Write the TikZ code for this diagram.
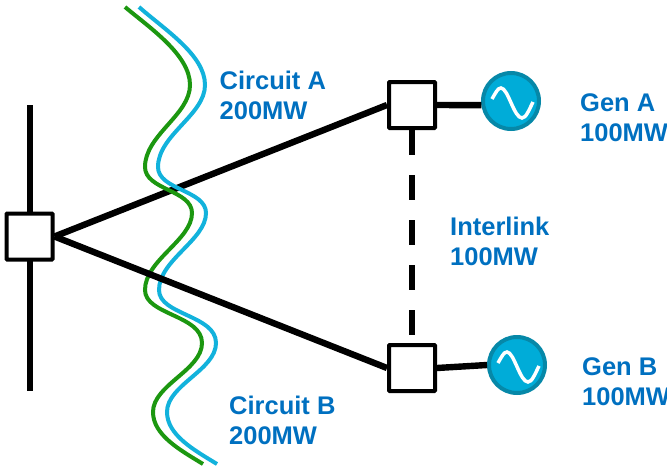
\documentclass[tikz,border=0pt]{standalone}
\usepackage{fontspec}
\setmainfont{Liberation Sans}
\definecolor{lab}{HTML}{0070C0}
\definecolor{cgreen}{HTML}{1C9710}
\definecolor{cblue}{HTML}{12B2DC}
\definecolor{genfill}{HTML}{00ACD8}
\definecolor{genline}{HTML}{0688A8}
\tikzset{
  busbox/.style={draw=black,fill=white,line width=4pt,minimum size=46pt,inner sep=0pt,rounded corners=0.8pt},
  gen/.style={circle,draw=genline,fill=genfill,line width=4pt,minimum size=56pt,inner sep=0pt},
  wire/.style={line width=6.4pt,black},
  circuit/.style={line width=4pt},
  lbl/.style={font=\fontsize{25.5}{30}\selectfont\bfseries,text=lab,align=left,anchor=west,inner sep=0pt},
  wave/.style={white,line width=3.5pt}
}
\begin{document}
\begin{tikzpicture}[x=1pt,y=-1pt]
\useasboundingbox (0,0) rectangle (667,466);
\coordinate (bt) at (30,105);
\coordinate (bb) at (30,391);
\draw[wire] (bt) -- (bb);
\path (29.5,236.5) node[busbox,draw=none,fill=none,line width=4pt] (L0) {};
\path (412,105) node[busbox,draw=none,fill=none] (A0) {};
\path (412,368) node[busbox,draw=none,fill=none] (B0) {};
\draw[wire] (L0.east) -- (A0.west);
\draw[circuit,cblue] (139,7) .. controls (165,30) and (205,55) .. (205,85) .. controls (205,115) and (158,135) .. (158,167) .. controls (158,190) and (206,190) .. (206,213) .. controls (206,240) and (159,260) .. (159,290) .. controls (159,315) and (216,315) .. (216,343) .. controls (216,370) and (167,385) .. (167,412) .. controls (167,435) and (194,450) .. (217,464);
\draw[circuit,cgreen] (125,7) .. controls (150,28) and (190,55) .. (190,85) .. controls (190,115) and (145,135) .. (145,167) .. controls (145,190) and (192,190) .. (192,213) .. controls (192,240) and (145,260) .. (145,290) .. controls (145,315) and (202,315) .. (202,343) .. controls (202,370) and (153,385) .. (153,412) .. controls (153,435) and (180,450) .. (203,464);
\draw[wire] (L0.east) -- (B0.west);
\node[busbox] (L) at (29.5,236.5) {};
\node[busbox] (A) at (412,105) {};
\node[busbox] (B) at (412,368) {};
\node[gen] (GA) at (511,101) {};
\node[gen] (GB) at (517,365) {};
\draw[wire] (A.east) -- (GA.188);
\draw[wire] (B.east) -- (GB.west);
\draw[wire,dash pattern=on 25pt off 20pt] (A.south) -- (B.north);
\draw[wave] (492,99) .. controls (496,92) and (498,88) .. (501,88) .. controls (508,88) and (514,118) .. (522,118) .. controls (526,118) and (529,110) .. (533,102);
\draw[wave] (498,363) .. controls (502,356) and (504,352) .. (507,352) .. controls (514,352) and (520,382) .. (528,382) .. controls (532,382) and (535,374) .. (539,366);
\node[lbl] (ca) at (219.5,95) {Circuit A\\200MW};
\node[lbl] (cb) at (229,420) {Circuit B\\200MW};
\node[lbl] (il) at (450,241) {Interlink\\100MW};
\node[lbl] (ga) at (580,118) {Gen A\\100MW};
\node[lbl] (gb) at (582,382) {Gen B\\100MW};
\end{tikzpicture}
\end{document}
